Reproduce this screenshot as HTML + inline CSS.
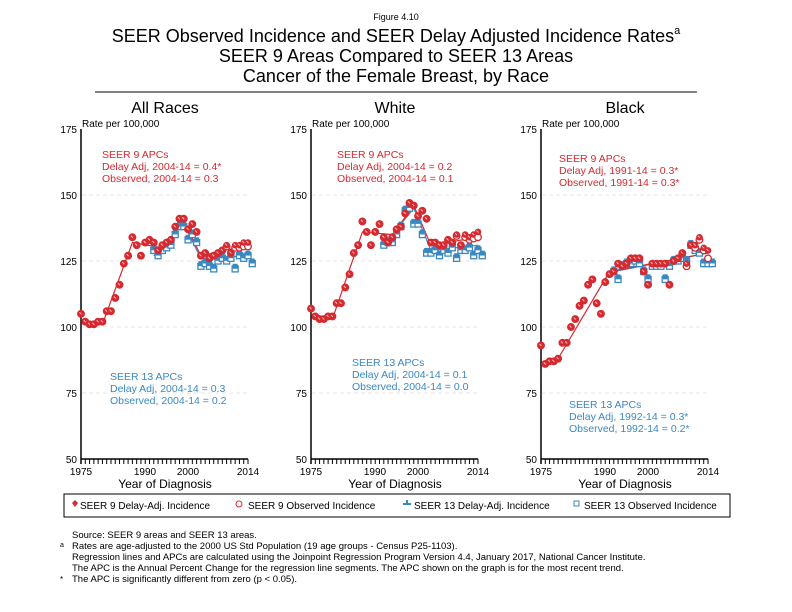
<!DOCTYPE html>
<html><head><meta charset="utf-8"><style>
body{margin:0;background:#fff;}
svg{display:block;font-family:"Liberation Sans",Arial,sans-serif;}
</style></head><body>
<svg id="s" width="792" height="612" viewBox="0 0 792 612" xmlns="http://www.w3.org/2000/svg">
<rect width="792" height="612" fill="#fff"/>
<text x="396" y="20" font-size="9" text-anchor="middle">Figure 4.10</text>
<text x="396" y="42" font-size="18" text-anchor="middle">SEER Observed Incidence and SEER Delay Adjusted Incidence Rates<tspan dy="-8" font-size="11">a</tspan></text>
<text x="396" y="62" font-size="18" text-anchor="middle">SEER 9 Areas Compared to SEER 13 Areas</text>
<text x="396" y="82" font-size="18" text-anchor="middle">Cancer of the Female Breast, by Race</text>
<line x1="95" y1="92" x2="697" y2="92" stroke="#000" stroke-width="1"/>
<text x="165" y="113" font-size="16" text-anchor="middle">All Races</text>
<text x="395" y="113" font-size="16" text-anchor="middle">White</text>
<text x="625" y="113" font-size="16" text-anchor="middle">Black</text>
<g font-size="10">
<text x="82" y="127">Rate per 100,000</text>
<text x="312" y="127">Rate per 100,000</text>
<text x="542" y="127">Rate per 100,000</text>
</g>
<g id="axes" font-size="10" text-anchor="end"></g>
<g font-size="10" text-anchor="middle">
<text x="81" y="475">1975</text><text x="145" y="475">1990</text><text x="188" y="475">2000</text><text x="248" y="475">2014</text>
<text x="311" y="475">1975</text><text x="375" y="475">1990</text><text x="418" y="475">2000</text><text x="478" y="475">2014</text>
<text x="541" y="475">1975</text><text x="605" y="475">1990</text><text x="648" y="475">2000</text><text x="708" y="475">2014</text>
</g>
<g font-size="12" text-anchor="middle">
<text x="165" y="488">Year of Diagnosis</text><text x="395" y="488">Year of Diagnosis</text><text x="625" y="488">Year of Diagnosis</text>
</g>
<g font-size="10.5" fill="#d42a30">
<text x="102" y="158">SEER 9 APCs</text><text x="102" y="170">Delay Adj, 2004-14 = 0.4*</text><text x="102" y="182">Observed, 2004-14 = 0.3</text>
<text x="337" y="158">SEER 9 APCs</text><text x="337" y="170">Delay Adj, 2004-14 = 0.2</text><text x="337" y="182">Observed, 2004-14 = 0.1</text>
<text x="559" y="162">SEER 9 APCs</text><text x="559" y="174">Delay Adj, 1991-14 = 0.3*</text><text x="559" y="186">Observed, 1991-14 = 0.3*</text>
</g>
<g font-size="10.5" fill="#3a88c0">
<text x="110" y="380">SEER 13 APCs</text><text x="110" y="392">Delay Adj, 2004-14 = 0.3</text><text x="110" y="404">Observed, 2004-14 = 0.2</text>
<text x="352" y="366">SEER 13 APCs</text><text x="352" y="378">Delay Adj, 2004-14 = 0.1</text><text x="352" y="390">Observed, 2004-14 = 0.0</text>
<text x="569" y="408">SEER 13 APCs</text><text x="569" y="420">Delay Adj, 1992-14 = 0.3*</text><text x="569" y="432">Observed, 1992-14 = 0.2*</text>
</g>
<rect x="64" y="494" width="666" height="23" fill="none" stroke="#000" stroke-width="1"/>
<g font-size="10">
<text x="80" y="509">SEER 9 Delay-Adj. Incidence</text>
<text x="248" y="509">SEER 9 Observed Incidence</text>
<text x="414" y="509">SEER 13 Delay-Adj. Incidence</text>
<text x="584" y="509">SEER 13 Observed Incidence</text>
</g>
<path d="M72,503 l3,-3 l3,3 l-3,4z" fill="#d42a30"/>
<circle cx="239" cy="504" r="3" fill="none" stroke="#d42a30"/>
<path d="M403,504 h8 M407,500 v3" stroke="#3a88c0" stroke-width="2"/>
<rect x="574" y="501" width="5" height="5" fill="none" stroke="#3a88c0"/>
<g font-size="9.5">
<text x="72" y="538">Source: SEER 9 areas and SEER 13 areas.</text>
<text x="60" y="547" font-size="7">a</text>
<text x="72" y="549">Rates are age-adjusted to the 2000 US Std Population (19 age groups - Census P25-1103).</text>
<text x="72" y="560">Regression lines and APCs are calculated using the Joinpoint Regression Program Version 4.4, January 2017, National Cancer Institute.</text>
<text x="72" y="571">The APC is the Annual Percent Change for the regression line segments. The APC shown on the graph is for the most recent trend.</text>
<text x="60" y="582" font-size="8">*</text>
<text x="72" y="582">The APC is significantly different from zero (p &lt; 0.05).</text>
</g>
<g id="plots"></g>
</svg>
<script>
var NS="http://www.w3.org/2000/svg",ax=document.getElementById('axes'),pl=document.getElementById('plots');
function el(p,t,a){var e=document.createElementNS(NS,t);for(var k in a)e.setAttribute(k,a[k]);p.appendChild(e);return e;}
var X0=[81,311,541],W=167,R="#d42a30",B="#3a88c0";
function Y(v){return 459-(v-50)*2.64;}
X0.forEach(function(x0){
 [150,125,100,75].forEach(function(v){el(ax,'line',{x1:x0+1,x2:x0+W,y1:Y(v),y2:Y(v),stroke:'#e4e4e4','stroke-dasharray':'4,3'});});
 el(ax,'line',{x1:x0,x2:x0,y1:Y(175),y2:Y(50)+5,stroke:'#000','stroke-width':1.5});
 el(ax,'line',{x1:x0,x2:x0+W,y1:Y(50),y2:Y(50),stroke:'#000','stroke-width':1.5});
 for(var i=0;i<=39;i++){el(ax,'line',{x1:x0+i*W/39,x2:x0+i*W/39,y1:Y(50),y2:Y(50)+5,stroke:'#000'});}
 [175,150,125,100,75,50].forEach(function(v){var t=el(ax,'text',{x:x0-4,y:Y(v)+4});t.textContent=v;});
});
function X(x0,yr){return x0+(yr-1975)*W/39;}
var D=[
 {s9:[105,102,101,101,102,102,106,106,111,116,124,127,134,131,127,132,133,132,129,131,132,133,138,141,141,137,139,136,127,128,126,127,128,129,131,128,131,131,132,132],
  o9d:[0,0,0,0,0,0,0,0,0,0,0,0,0,0,0,0,0,0,0,0,0,0,0,0,0,0,0,0,0,0,0,0,0,0,-0.5,0,-1,-1,-1.5,-1.5],
  s13:[130,128,130,131,132,136,139,139,134,136,133,124,125,124,123,126,127,126,127,123,128,127,128,125],
  l9:[[1975,103],[1980,101],[1987,132],[1994,130],[1999,140],[2003,127],[2014,131]],
  l13:[[1992,127],[1999,139],[2003,126],[2014,127]]},
 {s9:[107,104,103,103,104,104,109,109,115,120,128,131,140,136,131,136,139,134,132,134,137,138,143,147,146,142,144,141,132,132,131,131,133,132,135,131,135,134,135,136],
  o9d:[0,0,0,0,0,0,0,0,0,0,0,0,0,0,0,0,0,0,0,0,0,0,0,0,0,0,0,0,0,0,0,0,0,0,-0.5,0,-1,-1,-1.5,-2],
  s13:[132,133,133,136,139,145,146,140,140,136,129,129,130,128,130,129,131,127,130,130,131,128,130,128],
  l9:[[1975,105],[1980,103],[1987,136],[1994,135],[1999,146],[2003,131],[2014,134]],
  l13:[[1992,131],[1999,145],[2003,129],[2014,131]]},
 {s9:[93,86,87,87,88,94,94,100,103,108,110,116,118,109,105,117,120,121,124,123,124,126,126,126,121,116,124,124,124,124,116,125,126,128,124,131,131,134,130,129],
  o9d:[0,0,0,0,0,0,0,0,0,0,0,0,0,0,0,0,0,0,0,0,0,0,0,0,0,0,0,0,0,0,0,0,0,0,-1,0,-1,-1,-1,-3],
  s13:[122,119,124,125,125,126,125,122,119,124,124,124,119,124,126,126,127,126,132,130,129,125,125,125],
  l9:[[1975,86],[1979,88],[1991,121],[2014,128]],
  l13:[[1992,121],[2014,128]]}
];
D.forEach(function(d,p){var x0=X0[p];
 function line(pts,c){el(pl,'polyline',{points:pts.map(function(q){return X(x0,q[0])+','+Y(q[1]);}).join(' '),fill:'none',stroke:c,'stroke-width':1.2});}
 line(d.l13,B);line(d.l9,R);
 d.s13.forEach(function(v,i){var x=X(x0,1991+i+ (i>=0?0:0)),yr=1992+i;x=X(x0,yr);
  el(pl,'rect',{x:x-3,y:Y(v-1)-3,width:6,height:6,fill:'#fff',stroke:B,'stroke-width':1.3});
  el(pl,'rect',{x:x-2.5,y:Y(v)-2.5,width:5,height:5,fill:B});});
 d.s9.forEach(function(v,i){var x=X(x0,1975+i);
  el(pl,'circle',{cx:x,cy:Y(v+d.o9d[i]),r:3.3,fill:'#fff',stroke:R,'stroke-width':1.3});
  el(pl,'circle',{cx:x,cy:Y(v),r:3.3,fill:R});
  el(pl,'path',{d:'M'+(x-1.5)+','+(Y(v)-1.5)+' l2,2',stroke:'#fbb','stroke-width':1});});
});
</script>
</body></html>
